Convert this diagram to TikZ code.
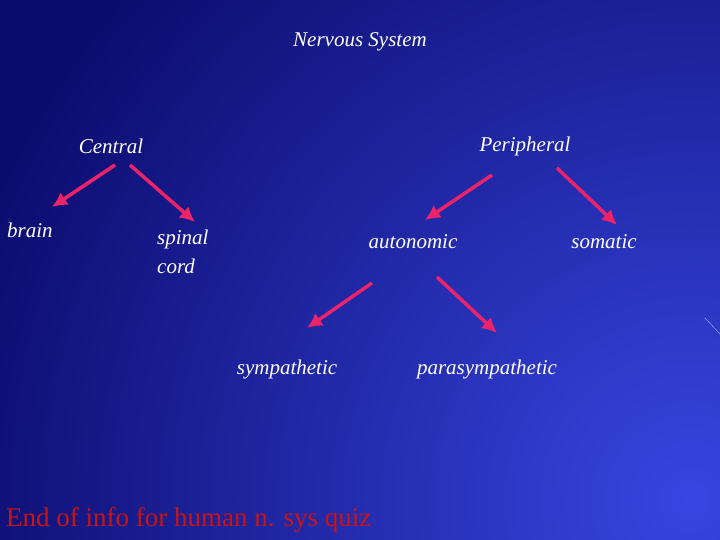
\documentclass[tikz,border=0pt]{standalone}
\usepackage{fontspec}
\setmainfont{Liberation Serif}
\usetikzlibrary{arrows.meta}
\definecolor{bgdark}{RGB}{12,12,110}
\definecolor{bglight}{RGB}{55,70,225}
\definecolor{arrpink}{RGB}{235,35,105}
\definecolor{endred}{RGB}{200,20,20}
\begin{document}
\begin{tikzpicture}[x=1pt,y=-1pt,
  lbl/.style={text=white,font=\fontsize{21}{26}\selectfont\itshape,align=left,inner sep=0},
  arr/.style={draw=arrpink,line width=3.5pt,-{Latex[length=15pt,width=15pt]}}]
\path[use as bounding box] (0,0) rectangle (720,540);
\fill[bgdark] (0,0) rectangle (720,540);
\begin{scope}
\clip (0,0) rectangle (720,540);
\shade[inner color=bglight,outer color=bgdark] (690,500) circle (760);
\end{scope}
\draw[white!70!blue,thin] (705,318) -- (720,334);
\node[lbl] (title) at (360,42) {Nervous System};
\node[lbl] (central) at (111,146) {Central};
\node[lbl] (peripheral) at (525,146) {Peripheral};
\node[lbl,anchor=west] (brain) at (7,230) {brain};
\node[lbl,anchor=west] (spinal) at (157,252) {spinal\\[3pt]cord};
\node[lbl] (autonomic) at (413,242) {autonomic};
\node[lbl] (somatic) at (604,242) {somatic};
\node[lbl] (symp) at (287,369) {sympathetic};
\node[lbl] (para) at (487,369) {parasympathetic};
\node[text=endred,font=\fontsize{27}{30}\selectfont,anchor=west,inner sep=0] (end) at (6,520) {End of info for human n. sys quiz};
\coordinate (c1) at (115,165); \coordinate (c1e) at (52,207);
\coordinate (c2) at (130,165); \coordinate (c2e) at (195,222);
\coordinate (p1) at (492,175); \coordinate (p1e) at (425,220);
\coordinate (p2) at (557,168); \coordinate (p2e) at (617,225);
\coordinate (a1) at (372,283); \coordinate (a1e) at (307,328);
\coordinate (a2) at (437,277); \coordinate (a2e) at (497,333);
\draw[arr] (c1) -- (c1e);
\draw[arr] (c2) -- (c2e);
\draw[arr] (p1) -- (p1e);
\draw[arr] (p2) -- (p2e);
\draw[arr] (a1) -- (a1e);
\draw[arr] (a2) -- (a2e);
\end{tikzpicture}
\end{document}
